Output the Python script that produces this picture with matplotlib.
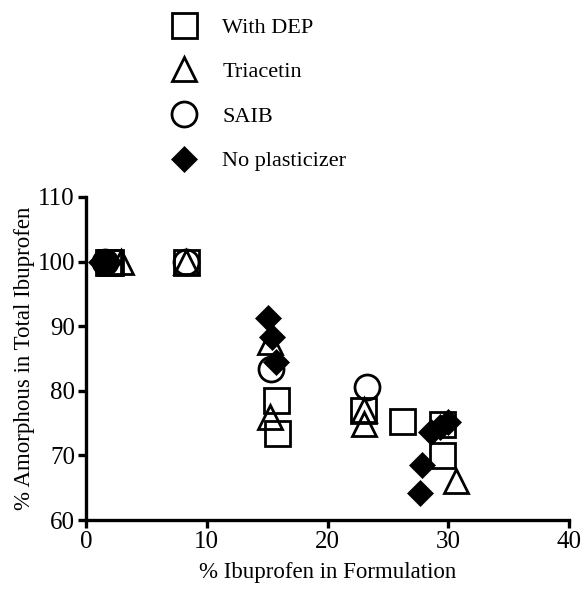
import matplotlib
matplotlib.use("Agg")
import matplotlib.pyplot as plt

plt.rcParams['font.family'] = ['Liberation Serif', 'DejaVu Serif']

# % ibuprofen in formulation vs % amorphous in total ibuprofen
dep_x = [1.8, 2.0, 8.3, 15.7, 15.8, 22.9, 26.2, 29.5, 29.5]
dep_y = [100.0, 100.0, 100.0, 78.6, 73.5, 77.0, 75.3, 74.9, 70.1]

tri_x = [2.9, 8.3, 15.2, 15.2, 23.0, 23.0, 30.6]
tri_y = [100.0, 100.0, 87.5, 76.0, 77.0, 74.8, 66.0]

saib_x = [1.6, 8.3, 15.3, 23.3]
saib_y = [100.0, 100.0, 83.4, 80.6]

nopl_x = [1.2, 1.5, 1.9, 15.1, 15.4, 15.7, 28.6, 29.3, 30.0, 27.8, 27.7]
nopl_y = [100.0, 100.0, 100.0, 91.3, 88.4, 84.4, 73.6, 74.4, 75.2, 68.6, 64.2]

x_ticks = [0, 10, 20, 30, 40]
y_ticks = [60, 70, 80, 90, 100, 110]

fig = plt.figure(figsize=(5.86, 5.91), dpi=100)
ax = fig.add_axes([0.1468, 0.120, 0.8242, 0.5467])

mew = 2.0
h_dep, = ax.plot(dep_x, dep_y, linestyle='none', marker='s', markersize=18,
                 markerfacecolor='none', markeredgecolor='black', markeredgewidth=mew,
                 label='With DEP', zorder=3)
h_tri, = ax.plot(tri_x, tri_y, linestyle='none', marker='^', markersize=17,
                 markerfacecolor='none', markeredgecolor='black', markeredgewidth=mew,
                 label='Triacetin', zorder=3)
h_saib, = ax.plot(saib_x, saib_y, linestyle='none', marker='o', markersize=18,
                  markerfacecolor='none', markeredgecolor='black', markeredgewidth=mew,
                  label='SAIB', zorder=3)
h_nopl, = ax.plot(nopl_x, nopl_y, linestyle='none', marker='D', markersize=13.5,
                  markerfacecolor='black', markeredgecolor='black', markeredgewidth=0.5,
                  label='No plasticizer', zorder=4)

ax.set_xlim(0, 40)
ax.set_ylim(60, 110)
ax.set_xticks(x_ticks)
ax.set_yticks(y_ticks)
ax.tick_params(axis='both', direction='out', length=6, width=2.4, labelsize=18,
               pad=2)
for side in ('top', 'right'):
    ax.spines[side].set_visible(False)
for side in ('left', 'bottom'):
    ax.spines[side].set_linewidth(2.4)
ax.set_xlabel('% Ibuprofen in Formulation', fontsize=16.5, labelpad=6)
ax.set_ylabel('% Amorphous in Total Ibuprofen', fontsize=16.5, labelpad=2)

fig.legend(handles=[h_dep, h_tri, h_saib, h_nopl], loc='upper left',
           bbox_to_anchor=(155.2 / 586, 1 - 6 / 591), frameon=False,
           fontsize=16, borderpad=0, handlelength=1.6, handletextpad=0.91,
           labelspacing=1.08, numpoints=1)

fig.savefig('out.png', dpi=100)
